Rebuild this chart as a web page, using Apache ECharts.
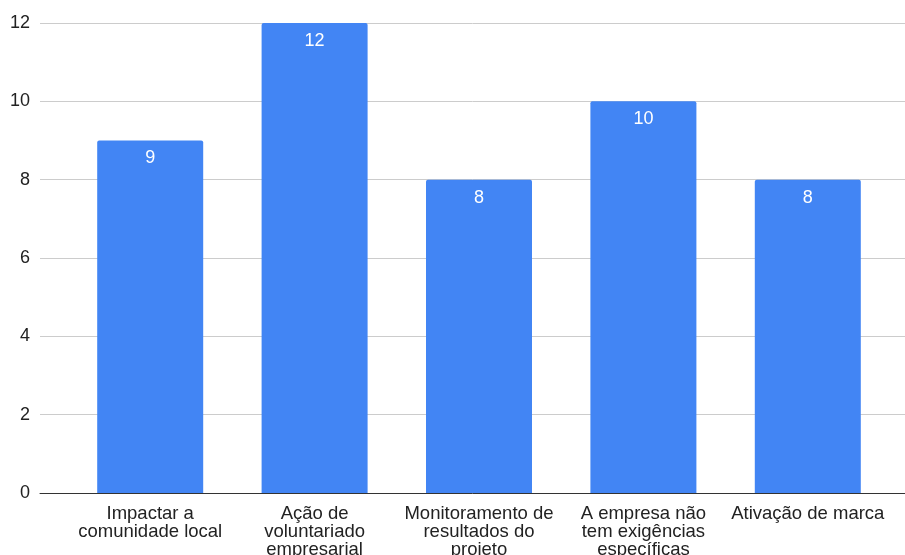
<!DOCTYPE html>
<html>
<head>
<meta charset="utf-8">
<script src="https://cdn.jsdelivr.net/npm/echarts@6/dist/echarts.min.js"></script>
<style>
  html, body { margin: 0; padding: 0; background: #fff; }
  #chart { width: 905px; height: 555px; }
</style>
</head>
<body>
<div id="chart"></div>
<script>
const categories = [
  'Impactar a\ncomunidade local',
  'Ação de\nvoluntariado\nempresarial',
  'Monitoramento de\nresultados do\nprojeto',
  'A empresa não\ntem exigências\nespecíficas',
  'Ativação de marca'
];
const counts = [9, 12, 8, 10, 8];
const yTicks = [0, 2, 4, 6, 8, 10, 12];

const FONT = '"Liberation Sans", Arial, sans-serif';
const yMin = yTicks[0];
const yMax = yTicks[yTicks.length - 1];
const yStep = yTicks[1] - yTicks[0];

const chart = echarts.init(document.getElementById('chart'), null, { renderer: 'canvas' });

chart.setOption({
  animation: false,
  backgroundColor: '#ffffff',
  grid: [
    // full-width frame: gridlines, y labels and baseline
    { left: 40, right: 0, top: 23, bottom: 62, outerBoundsMode: 'none', containLabel: false },
    // inner band for the bars and category labels
    { left: 68, right: 15, top: 23, bottom: 62, outerBoundsMode: 'none', containLabel: false }
  ],
  xAxis: [
    {
      gridIndex: 0, type: 'value', min: 0, max: 1,
      axisLine: { show: true, onZero: false, lineStyle: { color: '#333333', width: 1 } },
      axisTick: { show: false }, axisLabel: { show: false }, splitLine: { show: false }
    },
    {
      gridIndex: 1, type: 'category', data: categories,
      axisLine: { show: false }, axisTick: { show: false },
      axisLabel: {
        interval: 0, margin: 12, color: '#222222',
        fontFamily: FONT, fontSize: 18.5, lineHeight: 18
      }
    }
  ],
  yAxis: [
    {
      gridIndex: 0, type: 'value', min: yMin, max: yMax, interval: yStep,
      axisLine: { show: false }, axisTick: { show: false },
      axisLabel: { margin: 10, color: '#222222', fontFamily: FONT, fontSize: 18 },
      splitLine: { show: true, lineStyle: { color: '#cccccc', width: 1 } }
    },
    {
      gridIndex: 1, type: 'value', min: yMin, max: yMax, interval: yStep,
      show: false, splitLine: { show: false }
    }
  ],
  series: [
    {
      type: 'bar',
      xAxisIndex: 1, yAxisIndex: 1,
      data: counts,
      barWidth: 106,
      itemStyle: { color: '#4285F4', borderRadius: [2, 2, 0, 0] },
      label: {
        show: true, position: 'insideTop', distance: 9,
        color: '#ffffff', fontFamily: FONT, fontSize: 18
      }
    }
  ]
});
</script>
</body>
</html>
